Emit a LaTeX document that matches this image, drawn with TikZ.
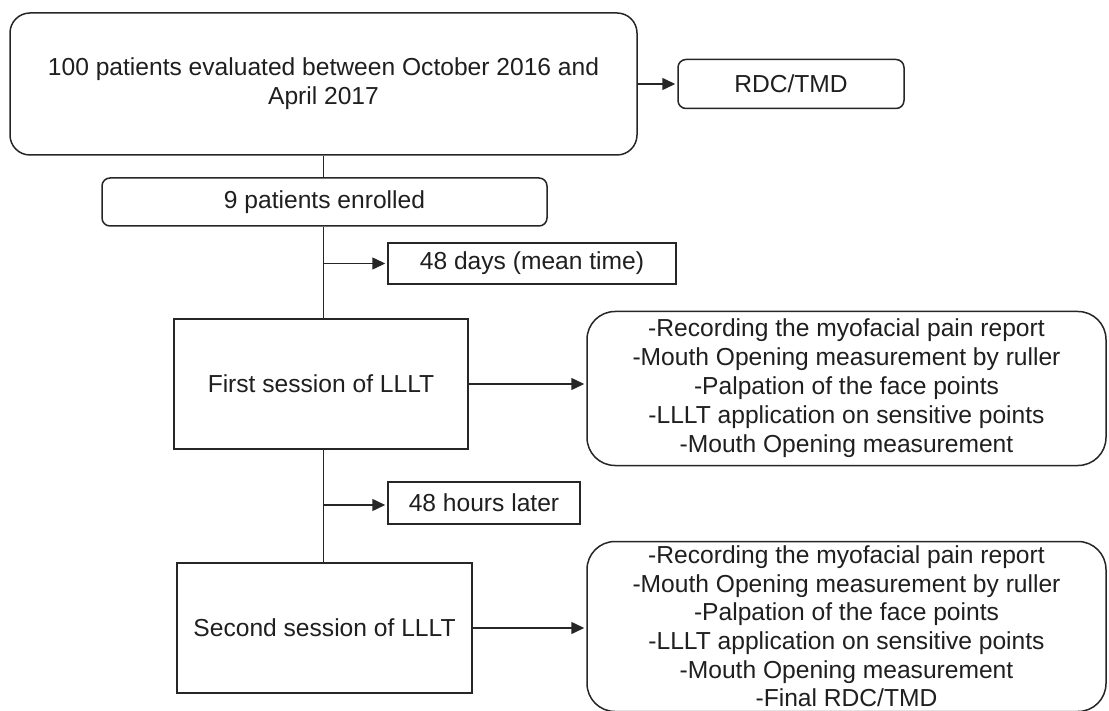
\documentclass[tikz,border=0pt]{standalone}
\usepackage{fontspec}
\setmainfont{Liberation Sans}
\usetikzlibrary{arrows.meta}
\begin{document}
\begin{tikzpicture}[x=1pt,y=-1pt,
  every node/.style={font=\fontsize{24.6}{29}\selectfont, text=black!88, inner sep=0pt, align=center},
  box/.style={draw=black!85, line width=1.5pt, fill=white},
  rbox/.style={box, rounded corners=#1},
  conn/.style={draw=black!85, line width=1.5pt},
  arr/.style={conn, -{Triangle[length=13pt,width=12pt]}, shorten >=2pt}]
\useasboundingbox (0,0) rectangle (1109,711);
\begin{scope}
\clip (0,0) rectangle (1109,711);
% nodes
\node[rbox=20pt, minimum width=627pt, minimum height=142pt] (top) at (323.5,84)
  {100 patients evaluated between October 2016 and\\April 2017};
\node[rbox=8pt, minimum width=226pt, minimum height=49pt] (rdc) at (791,84) {RDC/TMD};
\node[rbox=8pt, minimum width=445pt, minimum height=48pt] (nine) at (324.5,202) {9 patients enrolled};
\node[box, minimum width=288pt, minimum height=41pt] (days) at (532,263.5) {48 days (mean time)};
\node[box, minimum width=294pt, minimum height=130pt] (first) at (321,384) {First session of LLLT};
\node[rbox=28pt, minimum width=519pt, minimum height=154pt] (res1) at (846.5,388.5)
  {-Recording the myofacial pain report\\-Mouth Opening measurement by ruller\\-Palpation of the face points\\-LLLT application on sensitive points\\-Mouth Opening measurement};
\node[box, minimum width=192pt, minimum height=42pt] (hours) at (484,503) {48 hours later};
\node[box, minimum width=295pt, minimum height=130pt] (second) at (324.5,628) {Second session of LLLT};
\node[rbox=28pt, minimum width=519pt, minimum height=170pt, font=\fontsize{24.6}{28.6}\selectfont] (res2) at (846.5,626.5)
  {-Recording the myofacial pain report\\-Mouth Opening measurement by ruller\\-Palpation of the face points\\-LLLT application on sensitive points\\-Mouth Opening measurement\\-Final RDC/TMD};
% trunk
\coordinate (t1) at (323.5,263.5);
\coordinate (t2) at (323.5,505);
\draw[conn] (top.south) -- (top.south |- nine.north);
\draw[conn] (top.south |- nine.south) -- (top.south |- first.north);
\draw[conn] (top.south |- first.south) -- (top.south |- second.north);
% arrows
\draw[arr] (top.east |- rdc.west) -- (rdc.west);
\draw[arr] (t1) -- (days.west);
\draw[arr] (t2) -- (t2 -| hours.west);
\draw[arr] (first.east) -- (first.east -| res1.west);
\draw[arr] (second.east) -- (second.east -| res2.west);
\end{scope}
\end{tikzpicture}
\end{document}
